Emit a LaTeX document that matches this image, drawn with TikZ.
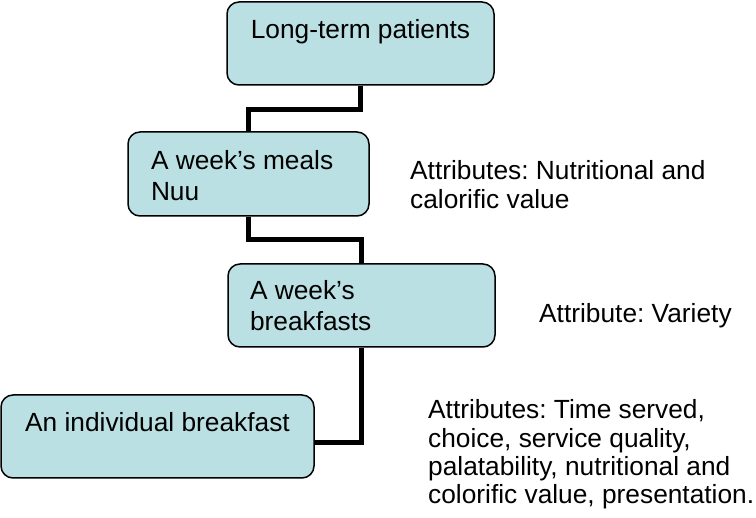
\documentclass[tikz,border=0pt]{standalone}
\usepackage{fontspec}
\setmainfont{Liberation Sans}
\frenchspacing
\definecolor{boxfill}{RGB}{187,224,227}
\newcommand\bxL[5]{\parbox[c][#2][t]{#1}{\raggedright\leftskip=#3\relax\vspace*{#4}#5}}
\newcommand\bxC[4]{\parbox[c][#2][t]{#1}{\centering\vspace*{#3}#4}}
\tikzset{
  box/.style={draw=black, line width=1.5pt, fill=boxfill, rounded corners=12pt,
              inner sep=0pt, font=\fontsize{26.3}{31}\selectfont},
  attr/.style={inner sep=0pt, anchor=base west, font=\fontsize{26.3}{28.3}\selectfont},
  conn/.style={draw=black, line width=5pt, line join=miter}
}
\begin{document}
\begin{tikzpicture}[x=1pt,y=-1pt]
\useasboundingbox (0,0) rectangle (756,518);
\node[box] (b1) at (360.5,43.5) {\bxC{267pt}{83pt}{15.3pt}{\strut Long-term patients}};
\node[box] (b2) at (248.5,174) {\bxL{241pt}{84pt}{23pt}{16.3pt}{\strut A week’s meals\\\strut Nuu}};
\node[box] (b3) at (361.5,305.5) {\bxL{267pt}{83pt}{22pt}{14.3pt}{\strut A week’s\\\strut breakfasts}};
\node[box] (b4) at (157.5,436.5) {\bxC{313pt}{83pt}{15.3pt}{\strut An individual breakfast}};
\node[attr] (a1) at (410,180) {\parbox[t]{340pt}{\raggedright Attributes: Nutritional and\\calorific value}};
\node[attr] (a2) at (539,323) {Attribute: Variety};
\node[attr] (a3) at (428,419) {\parbox[t]{340pt}{\raggedright Attributes: Time served,\\choice, service quality,\\palatability, nutritional and\\colorific value, presentation.}};
\draw[conn] (b1.south) -- ++(0,24) -| (b2.north);
\draw[conn] (b2.south) -- ++(0,23) -| (b3.north);
\draw[conn] (b3.south) |- ([yshift=-6.5pt]b4.east);
\end{tikzpicture}
\end{document}
